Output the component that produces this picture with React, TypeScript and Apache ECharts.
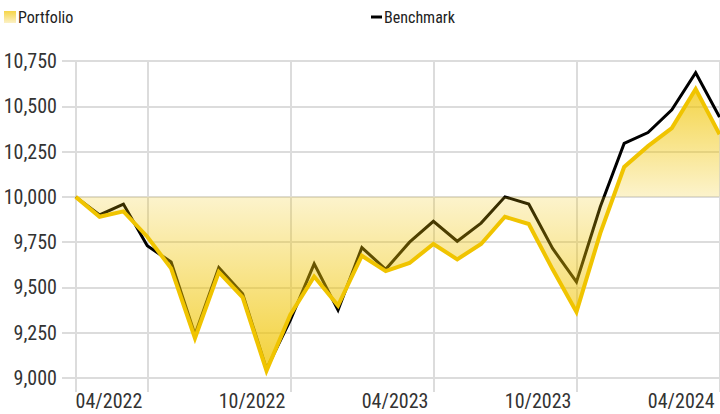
import React, { useEffect, useRef } from "react";
import * as echarts from "echarts";

const months = [
  "01/2022", "02/2022", "03/2022", "04/2022", "05/2022", "06/2022", "07/2022",
  "08/2022", "09/2022", "10/2022", "11/2022", "12/2022", "01/2023", "02/2023",
  "03/2023", "04/2023", "05/2023", "06/2023", "07/2023", "08/2023", "09/2023",
  "10/2023", "11/2023", "12/2023", "01/2024", "02/2024", "03/2024", "04/2024",
];

const portfolio = [
  10000, 9890, 9920, 9780, 9605, 9220, 9585, 9445, 9040, 9350, 9560, 9400, 9675, 9590,
  9635, 9740, 9655, 9740, 9890, 9850, 9600, 9365, 9800, 10165, 10280, 10380, 10595, 10345,
];

const benchmark = [
  10000, 9900, 9960, 9730, 9640, 9240, 9610, 9465, 9050, 9320, 9630, 9375, 9720, 9600,
  9750, 9865, 9755, 9855, 10000, 9960, 9715, 9530, 9945, 10295, 10355, 10480, 10685, 10440,
];

const gridIdx = [0, 3, 9, 15, 21, 27];
const labelIdx = [3, 9, 15, 21, 27];
const yTicks = { min: 9000, max: 10750, interval: 250 };

const FONT = "'Liberation Sans Narrow', 'Roboto Condensed', 'DejaVu Sans Condensed', sans-serif";
const YELLOW = "#f0c400";
const GRID = "#dcdcdc";

export default function App() {
  const ref = useRef<HTMLDivElement>(null);

  useEffect(() => {
    if (!ref.current) return;
    const chart = echarts.init(ref.current, null, { renderer: "svg" });
    const portData = portfolio.map((v, i) => [i, v]);
    const benchData = benchmark.map((v, i) => [i, v]);

    chart.setOption({
      animation: false,
      textStyle: { fontFamily: FONT },
      legend: [
        {
          left: 4,
          top: 9,
          padding: 0,
          itemWidth: 12,
          itemHeight: 12,
          itemGap: 0,
          icon: "rect",
          data: [
            {
              name: "Portfolio",
              itemStyle: {
                color: new echarts.graphic.LinearGradient(0, 0, 0, 1, [
                  { offset: 0, color: "#f6d548" },
                  { offset: 1, color: "#fcf1c6" },
                ]),
              },
            },
          ],
          textStyle: { fontFamily: FONT, fontSize: 16, color: "#222", padding: [0, 0, 0, -3] },
        },
        {
          left: 371,
          top: 9,
          padding: 0,
          itemWidth: 11,
          itemHeight: 3,
          itemGap: 0,
          icon: "rect",
          data: [{ name: "Benchmark", itemStyle: { color: "#000" } }],
          textStyle: { fontFamily: FONT, fontSize: 16, color: "#222", padding: [0, 0, 0, -3] },
        },
      ],
      grid: { left: 62, right: -3, top: 61, bottom: 36, containLabel: false },
      xAxis: {
        type: "value",
        min: -0.576,
        max: 27.02,
        axisLine: { show: false },
        axisTick: {
          show: true,
          customValues: gridIdx,
          length: 14,
          lineStyle: { color: GRID, width: 2 },
        },
        splitLine: { show: true, lineStyle: { color: GRID, width: 2 } },
        axisLabel: {
          customValues: labelIdx,
          formatter: (v: number) => months[Math.round(v)] ?? "",
          align: "right",
          padding: [0, 5, 0, 0],
          margin: 13,
          fontFamily: FONT,
          fontSize: 20,
          color: "#333",
        },
      },
      yAxis: {
        type: "value",
        min: yTicks.min,
        max: yTicks.max,
        interval: yTicks.interval,
        axisLine: { show: false },
        axisTick: { show: false },
        splitLine: { show: true, lineStyle: { color: GRID, width: 2 } },
        axisLabel: {
          formatter: (v: number) => v.toLocaleString("en-US"),
          margin: 5,
          fontFamily: FONT,
          fontSize: 20,
          color: "#333",
        },
      },
      series: [
        {
          name: "Benchmark",
          type: "line",
          data: benchData,
          symbol: "none",
          z: 1,
          lineStyle: { color: "#000", width: 3, join: "miter" },
          itemStyle: { color: "#000" },
        },
        {
          name: "Portfolio",
          type: "line",
          data: portData,
          symbol: "none",
          z: 2,
          lineStyle: { color: YELLOW, width: 4, join: "miter" },
          itemStyle: { color: YELLOW },
          areaStyle: {
            origin: 10000,
            opacity: 1,
            color: new echarts.graphic.LinearGradient(0, 0, 0, 1, [
              { offset: 0, color: "rgba(240,196,0,0.72)" },
              { offset: 0.383, color: "rgba(240,196,0,0.2)" },
              { offset: 1, color: "rgba(240,196,0,0.78)" },
            ]),
          },
        },
      ],
    });

    return () => chart.dispose();
  }, []);

  return (
    <div
      ref={ref}
      style={{ position: "fixed", left: 0, top: 0, width: 720, height: 414, background: "#fff" }}
    />
  );
}
